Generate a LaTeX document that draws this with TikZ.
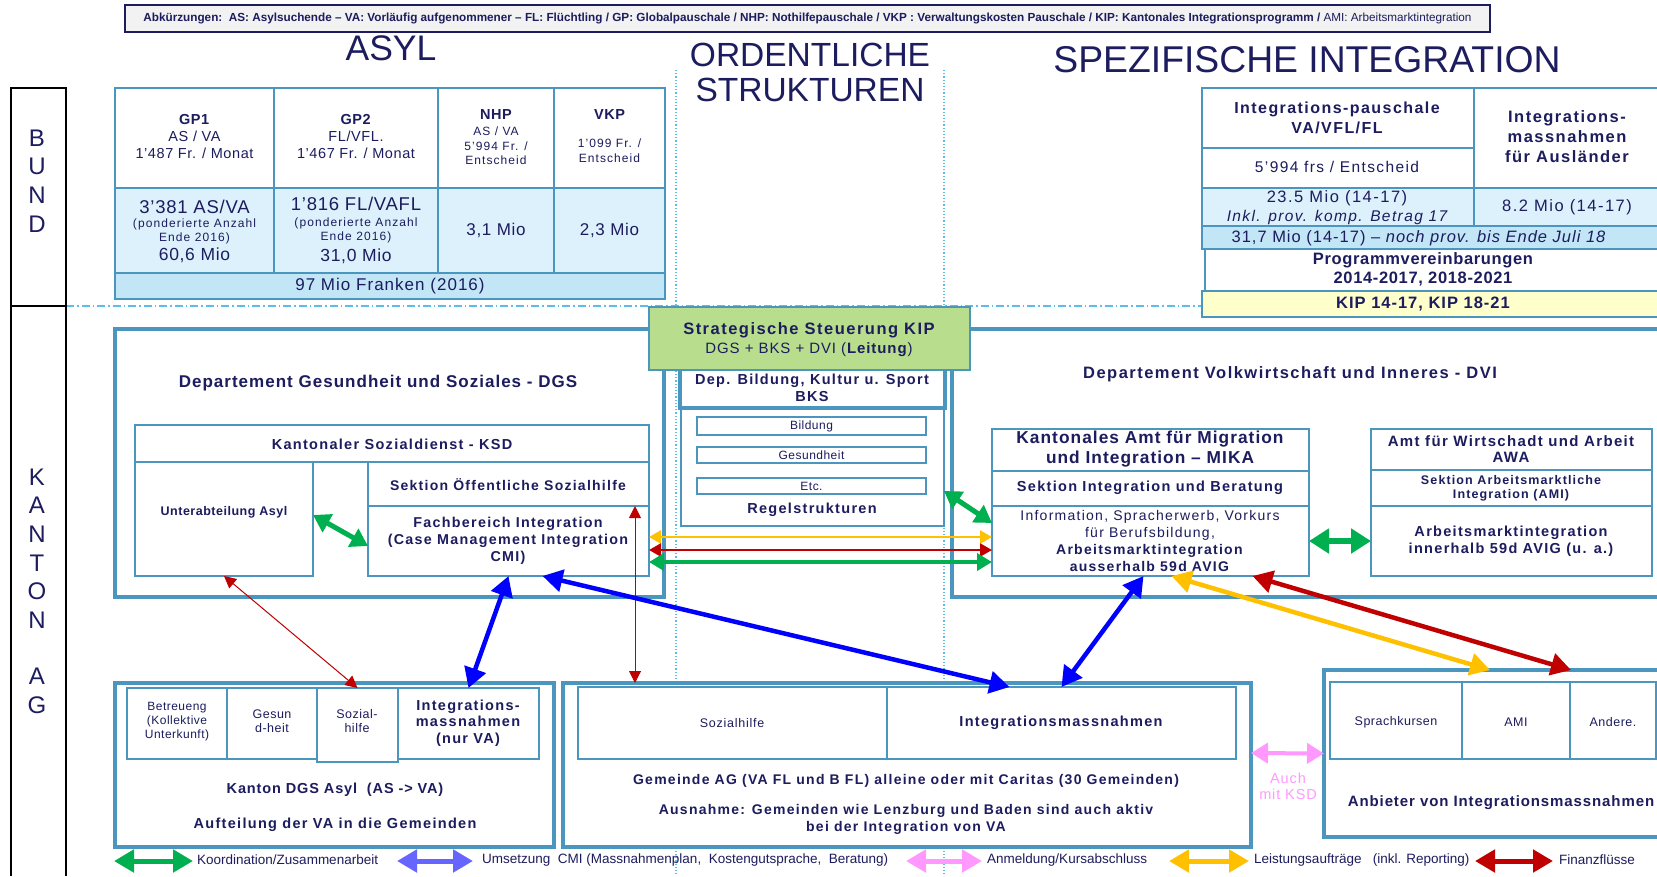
\documentclass[tikz,border=0pt]{standalone}
\usepackage{fontspec}
\usepackage{graphicx}
\setmainfont{Liberation Sans}
\newfontfamily\spa[LetterSpace=9]{Liberation Sans}
\newfontfamily\spm[LetterSpace=6]{Liberation Sans}
\newfontfamily\spb[LetterSpace=4]{Liberation Sans}
\usetikzlibrary{arrows.meta}
\definecolor{navy}{HTML}{1C1C5E}
\definecolor{steel}{HTML}{4A96BF}
\definecolor{lb1}{HTML}{DDF1FC}
\definecolor{lb2}{HTML}{C3E6F7}
\definecolor{kipy}{HTML}{FFFFCC}
\definecolor{sgreen}{HTML}{B8DE8D}
\definecolor{agreen}{HTML}{00B050}
\definecolor{ablue}{HTML}{0000FF}
\definecolor{lblue}{HTML}{6666FF}
\definecolor{ayellow}{HTML}{FFC000}
\definecolor{ared}{HTML}{C00000}
\definecolor{apink}{HTML}{FF99FF}
\definecolor{dotc}{HTML}{5BBDE8}
\definecolor{bannerfill}{HTML}{F2F2F2}
\newcommand\fsz[2]{\fontsize{#1}{#2}\selectfont}
\newcommand\bx[6][]{\node[bxs,#1,minimum width={(#5-#3)*1pt},minimum height={(#6-#4)*1pt}] (#2) at ({(#3+#5)/2},{(#4+#6)/2}) {};}
\begin{document}
\begin{tikzpicture}[x=1pt,y=-1pt,
  bxs/.style={draw=steel,line width=1.5pt,fill=white,inner sep=0pt,outer sep=0pt},
  thk/.style={line width=4.5pt},
  t/.style={text=navy,align=center,inner sep=0pt},
  dbl/.style 2 args={arrows={Triangle[width=#1,length=#2]-Triangle[width=#1,length=#2]}},
  guide/.style={draw=dotc,line width=1.2pt}
]
\useasboundingbox (0,0) rectangle (1657,876);
\clip (0,0) rectangle (1657,876);
\fill[white] (0,0) rectangle (1657,876);

% guide lines
\draw[guide,dash pattern=on 1.2pt off 2pt] (676,70) -- (676,876);
\draw[guide,dash pattern=on 1.2pt off 2pt] (944,70) -- (944,876);
\draw[guide,dash pattern=on 8pt off 3pt on 1.5pt off 3pt] (66,306) -- (1657,306);

% left column
\draw[black,line width=1.3pt] (11,876) -- (11,88) -- (66,88) -- (66,876) (11,306) -- (66,306);
\node[t,font={\fsz{24}{28.7}}] (bund) at (37,181) {B\\U\\N\\D};
\node[t,font={\fsz{24}{28.6}}] (kanton) at (37,548.5) {K\\A\\N\\T\\O\\N};
\node[t,font={\fsz{24}{28.6}}] (ag) at (37,691) {A\\G};

% banner
\node[draw=navy,fill=bannerfill,line width=1.5pt,minimum width=1365pt,minimum height=27pt,inner sep=0pt] (banner) at (807.5,18.5) {};
\node[t] (bantxt) at (banner.center) {\resizebox{1328pt}{!}{\fsz{11}{13}\textbf{Abkürzungen:\ \ AS: Asylsuchende – VA: Vorläufig aufgenommener – FL: Flüchtling / GP: Globalpauschale / NHP: Nothilfepauschale / VKP : Verwaltungskosten Pauschale / KIP: Kantonales Integrationsprogramm /} AMI: Arbeitsmarktintegration}};

% titles
\node[t,font={\fsz{35.5}{40}}] (tasyl) at (391,48) {ASYL};
\node[t,font={\fsz{33.5}{35}}] (tord) at (810,72) {ORDENTLICHE\\STRUKTUREN};
\node[t,font={\fsz{37.3}{40}}] (tspez) at (1307,60) {SPEZIFISCHE INTEGRATION};

% left Bund table
\bx[line width=2pt]{lh1}{115}{88}{274}{188}
\bx[line width=2pt]{lh2}{274}{88}{438}{188}
\bx[line width=2pt]{lh3}{438}{88}{554}{188}
\bx[line width=2pt]{lh4}{554}{88}{665}{188}
\bx[line width=2pt,fill=lb1]{ld1}{115}{188}{274}{273}
\bx[line width=2pt,fill=lb1]{ld2}{274}{188}{438}{273}
\bx[line width=2pt,fill=lb1]{ld3}{438}{188}{554}{273}
\bx[line width=2pt,fill=lb1]{ld4}{554}{188}{665}{273}
\bx[line width=2pt,fill=lb2]{ltot}{115}{273}{665}{299}
\node[t,font={\spb\fsz{14.5}{17}}] (lh1t) at (194.5,137) {\textbf{GP1}\\AS / VA\\1’487 Fr. / Monat};
\node[t,font={\spb\fsz{14.5}{17}}] (lh2t) at (356,137) {\textbf{GP2}\\FL/VFL.\\1’467 Fr. / Monat};
\node[t,font={\spb\fsz{14.5}{17}\bfseries}] (lh3a) at (496,115) {NHP};
\node[t,font={\spa\fsz{12}{14.5}}] (lh3b) at (496,146) {AS / VA\\5’994 Fr. /\\Entscheid};
\node[t,font={\spb\fsz{14.5}{17}\bfseries}] (lh4a) at (609.5,115) {VKP};
\node[t,font={\spa\fsz{12}{15}}] (lh4b) at (609.5,151) {1’099 Fr. /\\Entscheid};
\node[t,font={\spb\fsz{18.5}{20}}] (ld1a) at (194.5,207) {3’381 AS/VA};
\node[t,font={\spa\fsz{12}{14}}] (ld1b) at (194.5,231) {(ponderierte Anzahl\\Ende 2016)};
\node[t,font={\spb\fsz{17.5}{20}}] (ld1c) at (194.5,255) {60,6 Mio};
\node[t,font={\spb\fsz{18.5}{20}}] (ld2a) at (356,204) {1’816 FL/VAFL};
\node[t,font={\spa\fsz{12}{14}}] (ld2b) at (356,230) {(ponderierte Anzahl\\Ende 2016)};
\node[t,font={\spb\fsz{17.5}{20}}] (ld2c) at (356,256) {31,0 Mio};
\node[t,font={\spb\fsz{17}{20}}] (ld3t) at (496,230) {3,1 Mio};
\node[t,font={\spb\fsz{17}{20}}] (ld4t) at (609.5,230) {2,3 Mio};
\node[t,font={\spm\fsz{17}{20}}] (ltott) at (390,286) {97 Mio Franken (2016)};

% right Bund table
\bx[line width=2pt]{rt1}{1202}{88}{1474}{148}
\bx[line width=2pt]{rt2}{1202}{148}{1474}{188}
\bx[line width=2pt]{rt3}{1474}{88}{1700}{188}
\bx[line width=2pt,fill=lb1]{rt4}{1202}{188}{1474}{226}
\bx[line width=2pt,fill=lb1]{rt5}{1474}{188}{1700}{226}
\bx[line width=2pt,fill=lb2]{rt6}{1202}{226}{1700}{249}
\bx[line width=2pt]{rt7}{1205}{249}{1700}{291}
\bx[line width=2.5pt,fill=kipy]{rt8}{1202}{291}{1700}{317}
\node[t,font={\spa\fsz{16}{20}\bfseries}] (rt1t) at (1337,118) {Integrations-pauschale\\VA/VFL/FL};
\node[t,font={\spa\fsz{16.5}{20}\bfseries}] (rt3t) at (1567,137) {Integrations-\\massnahmen\\für Ausländer};
\node[t,font={\spa\fsz{15.5}{18}}] (rt2t) at (1337,167) {5’994 frs / Entscheid};
\node[t,font={\spa\fsz{16.5}{18}}] (rt4a) at (1337,198) {23.5 Mio (14-17)};
\node[t,font={\spa\fsz{15.5}{18}\itshape}] (rt4b) at (1337,217) {Inkl. prov. komp. Betrag 17};
\node[t,font={\spa\fsz{16.5}{18}}] (rt5t) at (1567,207) {8.2 Mio (14-17)};
\node[t,font={\spm\fsz{16.5}{18}}] (rt6t) at (1419,238) {31,7 Mio (14-17) – \textit{noch prov. bis Ende Juli 18}};
\node[t,font={\spb\fsz{16.5}{19}\bfseries}] (rt7t) at (1423,269.5) {Programmvereinbarungen\\2014-2017, 2018-2021};
\node[t,font={\spm\fsz{16.5}{19}\bfseries}] (rt8t) at (1423,304) {KIP 14-17, KIP 18-21};

% DGS
\bx[thk]{dgs}{115}{329}{664}{597}
\node[t,font={\spm\fsz{17}{20}\bfseries}] (dgst) at (378,383) {Departement Gesundheit und Soziales - DGS};
\bx{ksd}{135}{425}{649}{462}
\bx{asyl}{135}{462}{313}{576}
\bx{sekt}{368}{462}{649}{506}
\bx{fach}{368}{506}{649}{576}
\node[t,font={\spa\fsz{14.5}{17}\bfseries}] (ksdt) at (392,444) {Kantonaler Sozialdienst - KSD};
\node[t,font={\spb\fsz{12.5}{14}\bfseries}] (asylt) at (224,512) {Unterabteilung Asyl};
\node[t,font={\spa\fsz{14}{17}\bfseries}] (sektt) at (508,485) {Sektion Öffentliche Sozialhilfe};
\node[t,font={\spa\fsz{14.3}{17}\bfseries}] (facht) at (508,541) {Fachbereich Integration\\(Case Management Integration\\CMI)};

% DVI
\bx[thk]{dvi}{952}{329}{1700}{597}
\node[t,font={\spa\fsz{16.5}{20}\bfseries}] (dvit) at (1290,374) {Departement Volkwirtschaft und Inneres - DVI};
\bx{mtitle}{992}{429}{1309}{471}
\bx{msek}{992}{471}{1309}{506}
\bx{info}{992}{506}{1309}{576}
\node[t,font={\spm\fsz{17.3}{20}\bfseries}] (mtitlet) at (1150,449) {Kantonales Amt für Migration\\und Integration – MIKA};
\node[t,font={\spa\fsz{14.5}{17}\bfseries}] (msekt) at (1150,488) {Sektion Integration und Beratung};
\node[t,font={\spa\fsz{14}{16.7}}] (infot) at (1150,541) {Information, Spracherwerb, Vorkurs\\für Berufsbildung,\\\textbf{Arbeitsmarktintegration}\\\textbf{ausserhalb 59d AVIG}};
\bx{awa}{1371}{429}{1652}{470}
\bx{awasek}{1371}{470}{1652}{506}
\bx[line width=2.5pt]{awainfo}{1371}{506}{1652}{576}
\node[t,font={\spa\fsz{15}{16}\bfseries}] (awat) at (1511,449) {Amt für Wirtschadt und Arbeit\\AWA};
\node[t,font={\spa\fsz{12.5}{14}\bfseries}] (awasekt) at (1511,488) {Sektion Arbeitsmarktliche\\Integration (AMI)};
\node[t,font={\spa\fsz{14.5}{17}\bfseries}] (awainfot) at (1511,541) {Arbeitsmarktintegration\\innerhalb 59d AVIG (u. a.)};

% BKS
\bx[line width=2pt]{regel}{681}{408}{944}{526}
\bx[thk]{bks}{680}{362}{945}{408}
\node[t,font={\spa\fsz{14.5}{17}\bfseries}] (bkst) at (812,388) {Dep. Bildung, Kultur u. Sport\\BKS};
\bx{bbild}{697}{417}{926}{435}
\bx{bges}{697}{447}{926}{463}
\bx{betc}{697}{478}{926}{494}
\node[t,font={\spb\fsz{12}{14}}] (bbildt) at (811.5,426) {Bildung};
\node[t,font={\spb\fsz{12}{14}}] (bgest) at (811.5,455) {Gesundheit};
\node[t,font={\spb\fsz{12}{14}}] (betct) at (811.5,486) {Etc.};
\node[t,font={\spa\fsz{14.5}{17}\bfseries}] (regelt) at (812,510) {Regelstrukturen};

% Strategische Steuerung
\bx[fill=sgreen,line width=2pt]{strat}{649}{307}{970}{370}
\node[t,font={\spa\fsz{16.5}{19}\bfseries}] (stratt) at (809,330) {Strategische Steuerung KIP};
\node[t,font={\spm\fsz{15}{17}}] (strat2) at (809,350) {DGS + BKS + DVI (\textbf{Leitung})};

% bottom left
\bx[thk]{dgsasyl}{115}{683}{554}{847}
\bx{cbet}{127}{688}{227}{759}
\bx{cges}{227}{688}{317}{759}
\bx{csoz}{317}{688}{398}{762}
\bx{cint}{398}{688}{539}{759}
\node[t,font={\spb\fsz{12}{14}}] (cbett) at (177,722) {Betreueng\\(Kollektive\\Unterkunft)};
\node[t,font={\spb\fsz{12.5}{14}}] (cgest) at (272,721) {Gesun\\d-heit};
\node[t,font={\spb\fsz{12.5}{14.5}}] (csozt) at (357,721) {Sozial-\\hilfe};
\node[t,font={\spa\fsz{14.5}{16.5}\bfseries}] (cintt) at (468,723) {Integrations-\\massnahmen\\(nur VA)};
\node[t,font={\spm\fsz{14.5}{17}\bfseries}] (dgsasyl1) at (335,790) {Kanton DGS Asyl\ \ (AS -> VA)};
\node[t,font={\spa\fsz{14.5}{17}\bfseries}] (dgsasyl2) at (335,825) {Aufteilung der VA in die Gemeinden};

% bottom middle
\bx[thk]{gem}{563}{683}{1251}{847}
\bx{gsoz}{578}{687}{887}{759}
\bx{gint}{887}{687}{1236}{759}
\node[t,font={\spm\fsz{12.5}{14}}] (gsozt) at (732,723) {Sozialhilfe};
\node[t,font={\spa\fsz{14.5}{17}\bfseries}] (gintt) at (1061,723) {Integrationsmassnahmen};
\node[t,font={\spa\fsz{14}{17}\bfseries}] (gem1) at (906,781) {Gemeinde AG (VA FL und B FL) alleine oder mit Caritas (30 Gemeinden)};
\node[t,font={\spa\fsz{14}{17}\bfseries}] (gem2) at (906,819.5) {Ausnahme: Gemeinden wie Lenzburg und Baden sind auch aktiv\\bei der Integration von VA};

% bottom right
\bx[thk]{anb}{1324}{670}{1700}{837}
\bx{asp}{1330}{682}{1462}{759}
\bx{aami}{1462}{682}{1570}{759}
\bx{aand}{1570}{682}{1656}{759}
\node[t,font={\spb\fsz{12.5}{14}}] (aspt) at (1396,722) {Sprachkursen};
\node[t,font={\spb\fsz{12.5}{14}}] (aamit) at (1516,722) {AMI};
\node[t,font={\spb\fsz{12.5}{14}}] (aandt) at (1613,722) {Andere.};
\node[t,font={\spm\fsz{15}{17}\bfseries}] (anbt) at (1501,803) {Anbieter von Integrationsmassnahmen};
\node[t,text=apink,font={\spm\fsz{14.5}{16}}] (auch) at (1288,786) {Auch\\mit KSD};

% connectors
\draw[agreen,line width=5pt,dbl={20pt}{17pt}] ([yshift=4pt]asyl.east) -- ([yshift=-5pt]fach.west);
\draw[agreen,line width=5pt,dbl={20pt}{17pt}] ([yshift=-24pt]regel.east) -- ([yshift=18pt]info.west);
\draw[ayellow,line width=2.5pt,dbl={13pt}{12pt}] ([yshift=4pt]fach.east) -- ([yshift=4pt]info.west);
\draw[ared,line width=2.5pt,dbl={13pt}{12pt}] ([yshift=-9pt]fach.east) -- ([yshift=-9pt]info.west);
\draw[agreen,line width=4.5pt,dbl={17pt}{15pt}] ([yshift=-21pt]fach.east) -- ([yshift=-21pt]info.west);
\draw[agreen,line width=6pt,dbl={24pt}{20pt}] (info.east) -- (awainfo.west);
\coordinate (rv) at ([xshift=-14pt]fach.north east);
\draw[ared,line width=1pt,dbl={12pt}{12pt}] (rv) -- (rv |- gem.north);
\draw[ared,line width=1pt,dbl={12pt}{12pt}] (asyl.south) -- (csoz.north);
\draw[ablue,line width=4.5pt,dbl={22pt}{20pt}] (fach.south) -- (cint.north);
\draw[ablue,line width=4.5pt,dbl={22pt}{20pt}] ([xshift=34pt]fach.south) -- ([xshift=-52pt]gint.north);
\draw[ablue,line width=4.5pt,dbl={22pt}{20pt}] ([xshift=-7pt]info.south) -- (gint.north);
\draw[ayellow,line width=4.5pt,dbl={22pt}{20pt}] ([xshift=21pt]info.south) -- ([xshift=-22pt]anb.north);
\draw[ared,line width=4.5pt,dbl={22pt}{20pt}] ([xshift=102pt]info.south) -- ([xshift=59pt]anb.north);
\draw[apink,line width=4pt,dbl={20pt}{17pt}] ([yshift=12pt]gem.east) -- (anb.west);

% legend
\coordinate (lg1a) at (114,861); \coordinate (lg1b) at (193,861);
\coordinate (lg2a) at (397,861); \coordinate (lg2b) at (473,861);
\coordinate (lg3a) at (906,861); \coordinate (lg3b) at (982,861);
\coordinate (lg4a) at (1169,861); \coordinate (lg4b) at (1249,861);
\coordinate (lg5a) at (1475,861); \coordinate (lg5b) at (1553,861);
\draw[agreen,line width=5pt,dbl={22pt}{20pt}] (lg1a) -- (lg1b);
\draw[lblue,line width=5pt,dbl={22pt}{20pt}] (lg2a) -- (lg2b);
\draw[apink,line width=5pt,dbl={22pt}{20pt}] (lg3a) -- (lg3b);
\draw[ayellow,line width=5pt,dbl={22pt}{20pt}] (lg4a) -- (lg4b);
\draw[ared,line width=5pt,dbl={22pt}{20pt}] (lg5a) -- (lg5b);
\node[t,anchor=west,font={\fsz{13.5}{15}}] (lg1t) at (197,860) {Koordination/Zusammenarbeit};
\node[t,anchor=west,font={\fsz{13.5}{15}}] (lg2t) at (482,860) {Umsetzung\ \ CMI (Massnahmenplan,\ \ Kostengutsprache,\ \ Beratung)};
\node[t,anchor=west,font={\fsz{13.5}{15}}] (lg3t) at (987,860) {Anmeldung/Kursabschluss};
\node[t,anchor=west,font={\fsz{13.5}{15}}] (lg4t) at (1254,860) {Leistungsaufträge\ \ \ (inkl. Reporting)};
\node[t,anchor=west,font={\fsz{13.5}{15}}] (lg5t) at (1559,860) {Finanzflüsse};
\end{tikzpicture}
\end{document}
